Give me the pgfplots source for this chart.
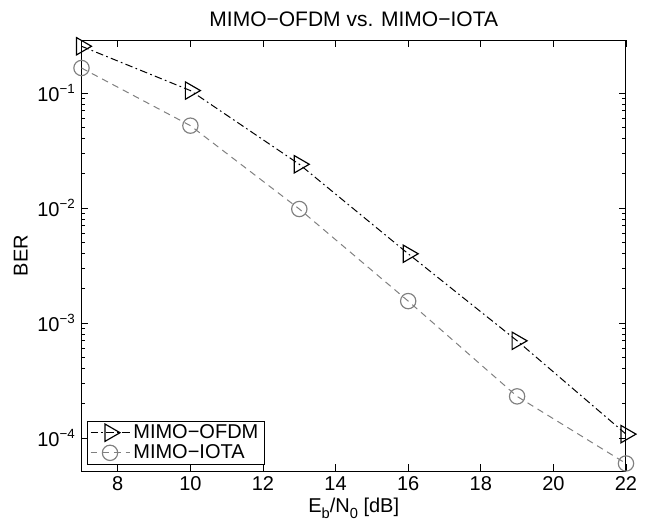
\documentclass[border=0pt]{standalone}
\usepackage{fontspec}
\setmainfont{Liberation Sans}
\usepackage{pgfplots}
\pgfplotsset{compat=1.18}
\usetikzlibrary{calc}
\definecolor{iotagray}{RGB}{128,128,128}
\newcommand{\lowsub}[1]{\raisebox{-0.55ex}{\fontsize{8.8}{9}\selectfont #1}}

\begin{document}
\begin{tikzpicture}
\begin{axis}[
    name=ax,
    scale only axis,
    width=326.7pt, height=258.6pt,
    ymode=log,
    xmin=7, xmax=22,
    ymin=5.16e-5, ymax=0.289,
    xtick={8,10,...,22},
    ytick={1e-4,1e-3,1e-2,1e-1},
    yticklabels={10\textsuperscript{−4},10\textsuperscript{−3},10\textsuperscript{−2},10\textsuperscript{−1}},
    /pgf/number format/assume math mode=true,
    font=\fontsize{12}{14}\selectfont,
    tick label style={font=\fontsize{12}{14}\selectfont},
    title={MIMO−OFDM vs. MIMO−IOTA},
    title style={font=\fontsize{12.6}{14}\selectfont, yshift=-1.5pt},
    xlabel={E\lowsub{b}/N\lowsub{0} [dB]},
    ylabel={BER},
    xlabel style={yshift=2.5pt},
    ylabel style={yshift=-1pt},
    axis line style={line width=0.6pt},
    tick style={line width=0.5pt, black},
    major tick length=4pt,
    minor tick length=2.2pt,
    clip=false,
    legend style={
        at={(0.010,0.014)}, anchor=south west,
        draw=black, line width=0.7pt,
        font=\fontsize{12}{14}\selectfont,
        inner xsep=1.5pt, inner ysep=0pt, row sep=-1.8pt,
        /tikz/every even column/.append style={column sep=0pt},
    },
    legend cell align=left,
    legend image code/.code={
        \draw[#1, mark repeat=2, mark phase=2]
            plot coordinates {(0pt,0pt) (11.7pt,0pt) (23.4pt,0pt)};
    },
]
\addplot[black, line width=0.6pt, dash pattern=on 4.5pt off 2pt on 1pt off 2pt,
    mark=triangle, mark size=6pt,
    mark options={solid, rotate=-90, line width=0.7pt}]
    coordinates {(7,0.255) (10,0.105) (13,0.024) (16,0.004) (19,0.0007) (22,0.000108)};
\addlegendentry{MIMO−OFDM}
\addplot[iotagray, line width=0.6pt, dash pattern=on 4pt off 3pt,
    mark=o, mark size=4.6pt,
    mark options={solid, line width=0.7pt}]
    coordinates {(7,0.165) (10,0.052) (13,0.0098) (16,0.00155) (19,0.00023) (22,0.00006)};
\addlegendentry{MIMO−IOTA}
\end{axis}
\pgfresetboundingbox
\path ($(ax.south west)+(-48.9pt,-30.6pt)$) rectangle ($(ax.north east)+(16.2pt,24pt)$);
\end{tikzpicture}
\end{document}
